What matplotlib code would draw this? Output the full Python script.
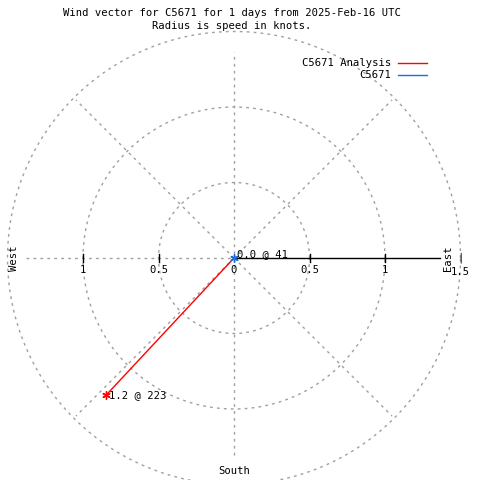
import numpy as np
import matplotlib
matplotlib.use("Agg")
import matplotlib.pyplot as plt

# data
station = "C5671"
analysis_speed = [1.24]
analysis_dir = [223]
obs_speed = [0.0]
obs_dir = [41]
rings = [0.5, 1.0, 1.5]
spokes = [45, 135, 225, 315]
x_ticks = [-1, -0.5, 0, 0.5, 1]
r_max_label = 1.5

plt.rcParams['font.family'] = 'DejaVu Sans Mono'
fs = 7.6

fig = plt.figure(figsize=(4.8, 4.8), dpi=100)
ax = fig.add_axes([0, 0, 1, 1])
s = 151.0  # px per knot
ax.set_xlim(-234 / s, (480 - 234) / s)
ax.set_ylim(-(480 - 258) / s, 258 / s)
ax.axis('off')

grid = dict(color='#a0a0a0', lw=1, ls=(0, (2, 3)))
t = np.linspace(0, 2 * np.pi, 400)
for r in rings:
    ax.plot(r * np.cos(t), r * np.sin(t), **grid)
for a in spokes:
    ax.plot([0, 1.48 * np.cos(np.radians(a))], [0, 1.48 * np.sin(np.radians(a))], **grid)
ax.plot([0, 0], [-1.305, 1.364], **grid)
ax.plot([-1.377, 0], [0, 0], **grid)
ax.plot([0, 1.364], [0, 0], color='black', lw=1)

# ticks
for x in x_ticks:
    if x != 0:
        ax.plot([x, x], [-0.025, 0.025], color='black', lw=1)
    ax.text(x, -0.08, f"{x:g}".replace("-", ""), ha='center', va='center', fontsize=fs)
ax.text(r_max_label, -0.09, f"{r_max_label:g}", ha='center', va='center', fontsize=fs)
ax.text(1.5, 0.0, "|", ha='center', va='center', fontsize=fs)

ax.text(-1.46, 0, "West", rotation=90, ha='center', va='center', fontsize=fs)
ax.text(1.42, 0, "East", rotation=90, ha='center', va='center', fontsize=fs)
ax.text(0, -1.41, "South", ha='center', va='center', fontsize=fs)

# vectors (compass direction, clockwise from north)
for spd, d in zip(analysis_speed, analysis_dir):
    x = spd * np.sin(np.radians(d))
    y = spd * np.cos(np.radians(d))
    ax.plot([0, x], [0, y], color='red', lw=1)
    ax.plot(x, y, marker=(6, 2, 0), color='red', ms=6, mew=1)
    ax.text(x + 0.015, y, f"{spd:.1f} @ {d}", ha='left', va='center', fontsize=fs)
for spd, d in zip(obs_speed, obs_dir):
    x = spd * np.sin(np.radians(d))
    y = spd * np.cos(np.radians(d))
    ax.plot([0, x], [0, y], color='#1a6fdf', lw=1)
    ax.plot(x, y, marker=(6, 2, 0), color='#1a6fdf', ms=6, mew=1)
    ax.text(x + 0.02, y + 0.025, f"{spd:.1f} @ {d}", ha='left', va='center', fontsize=fs)

# title
fig.text(232 / 480, 1 - 13 / 480,
         f"Wind vector for {station} for 1 days from 2025-Feb-16 UTC",
         ha='center', va='center', fontsize=fs)
fig.text(232 / 480, 1 - 26 / 480, "Radius is speed in knots.",
         ha='center', va='center', fontsize=fs)

# legend
fig.text(391 / 480, 1 - 63 / 480, f"{station} Analysis", ha='right', va='center', fontsize=fs)
fig.text(391 / 480, 1 - 75 / 480, station, ha='right', va='center', fontsize=fs)
fig.add_artist(plt.Line2D([398 / 480, 427 / 480], [1 - 63 / 480] * 2, color='red', lw=1))
fig.add_artist(plt.Line2D([398 / 480, 427 / 480], [1 - 75 / 480] * 2, color='#1a6fdf', lw=1))

fig.savefig("out.png", dpi=100)
